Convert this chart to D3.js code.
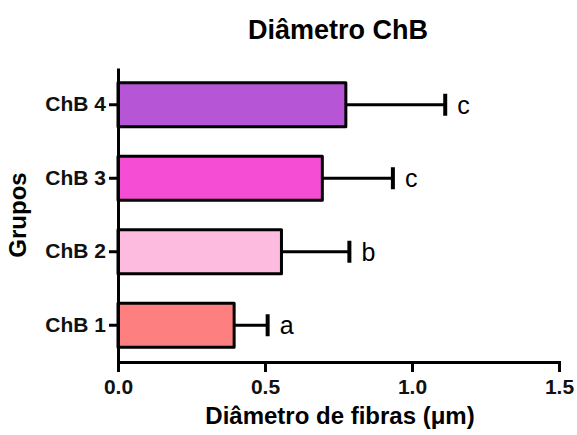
<!DOCTYPE html>
<html>
<head>
<meta charset="utf-8">
<script src="https://cdnjs.cloudflare.com/ajax/libs/d3/7.8.5/d3.min.js"></script>
<style>
  body { margin: 0; background: #fff; }
  svg { display: block; font-family: "Liberation Sans", Arial, sans-serif; }
  .axis path, .axis line { stroke: #000; stroke-width: 3px; }
  .axis text { font-size: 21px; font-weight: bold; fill: #111; }
</style>
</head>
<body>
<svg id="chart" width="577" height="435"></svg>
<script>
// data
var groups = ['ChB 4', 'ChB 3', 'ChB 2', 'ChB 1'];
var means = [0.775, 0.695, 0.556, 0.395];
var errors = [0.338, 0.24, 0.231, 0.114];
var letters = ['c', 'c', 'b', 'a'];
var colors = ['#b655d6', '#f54dd3', '#fcbbdf', '#fe7f7f'];
var xTicks = [0, 0.5, 1.0, 1.5];

var svg = d3.select('#chart');

var x = d3.scaleLinear()
  .domain([0, 1.5])
  .range([118, 559]);

var y = d3.scaleBand()
  .domain(groups)
  .range([68, 362])
  .paddingInner(0.4)
  .paddingOuter(0.2);

// title
svg.append('text')
  .attr('x', 338)
  .attr('y', 39)
  .attr('text-anchor', 'middle')
  .style('font-size', '27px')
  .style('font-weight', 'bold')
  .text('Diâmetro ChB');

// bars
var rows = svg.append('g').selectAll('g')
  .data(groups)
  .enter()
  .append('g');

rows.append('line')
  .attr('x1', function(d, i) { return x(means[i]); })
  .attr('x2', function(d, i) { return x(means[i] + errors[i]); })
  .attr('y1', function(d) { return y(d) + y.bandwidth() / 2; })
  .attr('y2', function(d) { return y(d) + y.bandwidth() / 2; })
  .attr('stroke', '#000')
  .attr('stroke-width', 3);

rows.append('line')
  .attr('x1', function(d, i) { return x(means[i] + errors[i]); })
  .attr('x2', function(d, i) { return x(means[i] + errors[i]); })
  .attr('y1', function(d) { return y(d) + y.bandwidth() / 2 - 11; })
  .attr('y2', function(d) { return y(d) + y.bandwidth() / 2 + 11; })
  .attr('stroke', '#000')
  .attr('stroke-width', 4);

rows.append('rect')
  .attr('x', x(0))
  .attr('y', function(d) { return y(d); })
  .attr('width', function(d, i) { return x(means[i]) - x(0); })
  .attr('height', y.bandwidth())
  .attr('fill', function(d, i) { return colors[i]; })
  .attr('stroke', '#000')
  .attr('stroke-width', 3)
  .attr('stroke-linejoin', 'round');

rows.append('text')
  .attr('x', function(d, i) { return x(means[i] + errors[i]) + 12; })
  .attr('y', function(d) { return y(d) + y.bandwidth() / 2 + 9; })
  .style('font-size', '25px')
  .text(function(d, i) { return letters[i]; });

// axes
svg.append('g')
  .attr('class', 'axis')
  .attr('transform', 'translate(0,362)')
  .call(d3.axisBottom(x)
    .tickValues(xTicks)
    .tickFormat(d3.format('.1f'))
    .tickSize(10)
    .tickSizeOuter(10)
    .tickPadding(7));

svg.append('g')
  .attr('class', 'axis')
  .attr('transform', 'translate(118,0)')
  .call(d3.axisLeft(y)
    .tickSize(9)
    .tickSizeOuter(0)
    .tickPadding(3));

// axis titles
svg.append('text')
  .attr('x', 340)
  .attr('y', 424)
  .attr('text-anchor', 'middle')
  .style('font-size', '24px')
  .style('font-weight', 'bold')
  .text('Diâmetro de fibras (μm)');

svg.append('text')
  .attr('transform', 'translate(26,215) rotate(-90)')
  .attr('text-anchor', 'middle')
  .style('font-size', '24px')
  .style('font-weight', 'bold')
  .text('Grupos');
</script>
</body>
</html>
